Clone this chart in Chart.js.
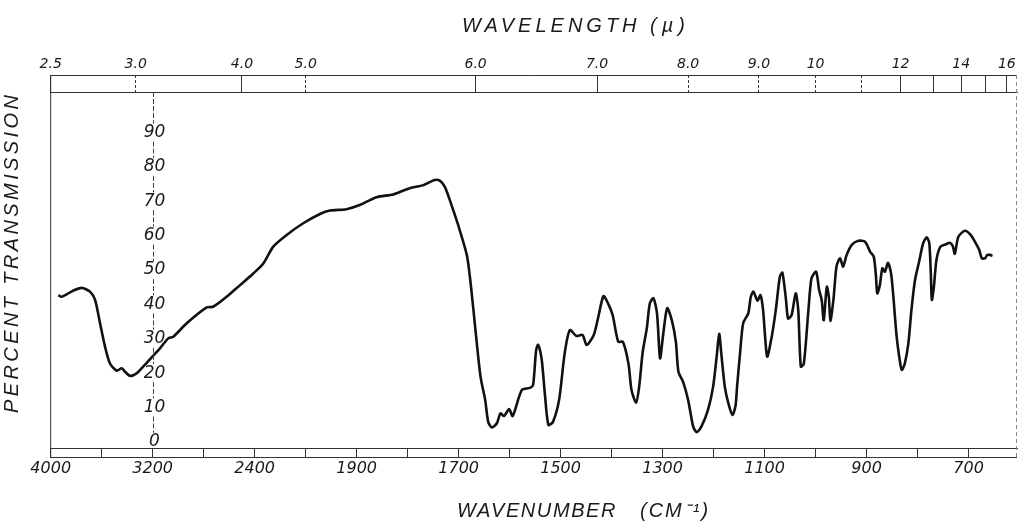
<!DOCTYPE html>
<html><head><meta charset="utf-8">
<script src="https://cdn.jsdelivr.net/npm/chart.js@4.4.1/dist/chart.umd.min.js"></script>
<style>html,body{margin:0;padding:0;background:#fff}#wrap{width:1018px;height:521px;position:relative}</style>
</head><body><div id="wrap"><canvas id="c"></canvas></div>
<script>
// ---- data ----
const wavenumbers = [3940,3914,3823,3757,3692,3652,3613,3574,3535,3482,3443,3417,3378,3326,3274,3208,3143,3078,3038,2933,2776,2725,2620,2515,2411,2332,2254,2149,2019,1972,1952,1920,1894,1861,1828,1796,1769,1747,1737,1727,1714,1701,1684,1678,1671,1665,1657,1648,1642,1635,1625,1618,1611,1601,1594,1576,1560,1554,1548,1544,1537,1531,1524,1515,1503,1492,1482,1469,1457,1449,1435,1426,1416,1407,1398,1387,1378,1367,1361,1352,1346,1339,1331,1325,1318,1311,1305,1299,1291,1282,1274,1269,1260,1250,1240,1233,1224,1211,1201,1194,1189,1185,1178,1171,1163,1157,1154,1148,1142,1132,1127,1122,1114,1108,1103,1095,1086,1078,1070,1065,1058,1054,1047,1039,1034,1029,1023,1014,1008,999,993,988,984,978,974,971,965,959,952,946,939,929,916,903,893,886,882,879,874,869,864,858,852,848,841,835,831,825,818,812,805,797,789,782,777,774,772,768,763,755,744,737,731,727,720,707,696,686,679,674,668,663,658,653];
const transmission = [42.7,42.2,44.0,44.8,43.7,41.3,34.5,27.7,22.8,20.7,21.4,20.4,19.2,19.9,21.9,24.6,27.2,30.1,30.6,34.5,39.1,39.3,42.2,45.6,49.0,51.9,56.8,60.2,63.6,66.3,67.3,67.7,68.9,71.2,72.0,73.8,74.7,76.2,76.0,74.2,68.9,63.1,54.4,48.1,38.4,29.6,18.9,12.2,5.8,4.2,5.4,8.3,7.5,9.5,7.5,15.1,15.7,16.5,26.7,28.2,23.8,14.1,4.9,5.8,12.2,25.8,32.5,30.8,31.1,28.2,31.1,36.4,42.4,40.3,36.9,29.1,29.1,22.8,15.1,11.4,16.0,26.2,33.0,40.3,41.8,37.4,24.3,31.1,38.9,35.4,29.1,20.4,17.5,12.2,4.4,2.8,4.4,9.3,16.0,24.8,31.4,25.8,16.0,11.2,7.8,10.5,16.0,26.0,34.5,37.4,42.2,43.7,41.1,42.7,38.4,24.8,30.6,38.4,48.1,49.2,41.3,35.9,36.9,43.2,38.4,21.9,22.8,38.4,47.6,49.5,44.2,41.3,35.4,45.1,42.2,35.2,41.3,51.0,53.4,51.0,54.4,57.3,58.5,58.2,55.3,53.9,49.0,43.2,45.6,50.5,49.5,52.1,49.0,43.2,30.6,23.8,20.9,22.8,28.7,38.4,47.1,52.4,57.8,59.5,57.8,49.0,41.3,45.1,52.9,56.8,57.5,57.9,57.0,54.7,59.7,61.4,60.2,57.8,55.8,53.4,53.4,54.4,54.4,54.1];

const bottomTickValues = [4000,3600,3200,2800,2400,2000,1900,1800,1700,1600,1500,1400,1300,1200,1100,1000,900,800,700];
const bottomTickLabels = [4000,3200,2400,1900,1700,1500,1300,1100,900,700];
const topMicrons = [2.5,3,4,5,6,7,8,9,10,11,12,13,14,15,16];
const topTickLabels = ['2.5','3.0','4.0','5.0','6.0','7.0','8.0','9.0','10','','12','','14','','16'];
const topDashed = [3,5,8,9,10,11];
const yTickValues = [0,10,20,30,40,50,60,70,80,90];
const yAxisAtWavenumber = 3200;

// ---- grating-change wavenumber scale (4:1 at 2000 cm-1) ----
function toU(v){ return v >= 2000 ? (4000 - v) / 400 : 5 + (2000 - v) / 100; }
function fromU(u){ return u <= 5 ? 4000 - 400 * u : 2000 - 100 * (u - 5); }
class WavenumberScale extends Chart.LinearScale {
  getPixelForValue(value){
    if (value === null || value === undefined || isNaN(value)) return NaN;
    const a = toU(this.max), b = toU(this.min);
    return this.getPixelForDecimal((toU(value) - a) / (b - a));
  }
  getValueForPixel(pixel){
    const a = toU(this.max), b = toU(this.min);
    return fromU(a + this.getDecimalForPixel(pixel) * (b - a));
  }
}
WavenumberScale.id = 'wavenumber';
WavenumberScale.defaults = {};
Chart.register(WavenumberScale);

const ink = '#1a1a1a';

const decor = {
  id: 'decor',
  afterDraw(chart){
    const {ctx, chartArea: ca, scales} = chart;
    const xs = scales.x, ys = scales.y;
    ctx.save();
    ctx.strokeStyle = '#333';
    ctx.lineWidth = 1;
    ctx.beginPath();
    ctx.moveTo(ca.left, 75); ctx.lineTo(ca.left, 458);
    ctx.moveTo(ca.left, 75.5); ctx.lineTo(ca.right, 75.5);
    ctx.moveTo(ca.left, 457.5); ctx.lineTo(ca.right, 457.5);
    ctx.stroke();
    ctx.strokeStyle = '#888';
    ctx.setLineDash([4,3]);
    ctx.beginPath();
    ctx.moveTo(ca.right - 0.5, 75); ctx.lineTo(ca.right - 0.5, 458);
    ctx.stroke();
    ctx.setLineDash([]);

    // y labels along the dashed axis at 3200 cm-1
    const xa = Math.round(xs.getPixelForValue(yAxisAtWavenumber)) + 0.5;
    ctx.font = 'italic 17px "DejaVu Sans"';
    ctx.fillStyle = ink;
    ctx.textAlign = 'center';
    ctx.textBaseline = 'middle';
    const centers = yTickValues.map(v => ys.getPixelForValue(v));
    yTickValues.forEach((v, i) => ctx.fillText(String(v), xa + 1, centers[i]));
    ctx.strokeStyle = '#444';
    ctx.setLineDash([5,2]);
    ctx.beginPath();
    let prevTop = ca.top;
    for (let i = centers.length - 1; i >= 0; i--) {
      const top = centers[i] - 9, bot = centers[i] + 9;
      if (top > prevTop + 1) { ctx.moveTo(xa, prevTop); ctx.lineTo(xa, top); }
      prevTop = bot;
    }
    ctx.stroke();
    ctx.setLineDash([]);

    // titles
    ctx.fillStyle = ink;
    ctx.textAlign = 'left';
    ctx.textBaseline = 'alphabetic';
    ctx.font = 'italic 20px "Liberation Sans"';
    ctx.letterSpacing = '4px';
    ctx.fillText('WAVELENGTH', 462, 31.5);
    ctx.letterSpacing = '5px';
    ctx.fillText('(\u00b5)', 650, 31.5);
    ctx.letterSpacing = '1.6px';
    ctx.fillText('WAVENUMBER', 457, 516.5);
    ctx.letterSpacing = '2px';
    ctx.fillText('(CM\u207b\u00b9)', 640, 516.5);
    ctx.save();
    ctx.translate(17.5, 413);
    ctx.rotate(-Math.PI / 2);
    ctx.letterSpacing = '3.4px';
    ctx.fillText('PERCENT TRANSMISSION', 0, 0);
    ctx.restore();
    ctx.letterSpacing = '0px';
    ctx.restore();
  }
};

new Chart(document.getElementById('c'), {
  type: 'line',
  data: {
    datasets: [{
      data: wavenumbers.map((w, i) => ({x: w, y: transmission[i]})),
      borderColor: '#111',
      borderWidth: 2.6,
      pointRadius: 0,
      tension: 0.25,
      fill: false
    }]
  },
  options: {
    responsive: true,
    maintainAspectRatio: false,
    animation: false,
    layout: {padding: {left: 50.7, right: 1, top: 0, bottom: 0}},
    plugins: {legend: {display: false}, tooltip: {enabled: false}},
    scales: {
      x: {
        type: 'wavenumber', position: 'bottom', min: 605, max: 4000, bounds: 'data',
        afterBuildTicks: s => { s.ticks = bottomTickValues.map(v => ({value: v})); },
        afterFit: s => { s.height = 73; },
        border: {display: true, color: '#333', width: 1},
        grid: {drawOnChartArea: false, drawTicks: true, tickLength: 10, color: '#333', lineWidth: 1},
        ticks: {
          autoSkip: false, maxRotation: 0, minRotation: 0, padding: 1,
          color: ink, font: {family: 'DejaVu Sans', style: 'italic', size: 16},
          callback: v => bottomTickLabels.includes(v) ? String(v) : ''
        }
      },
      xTop: {
        type: 'wavenumber', position: 'top', min: 605, max: 4000, bounds: 'data',
        afterBuildTicks: s => { s.ticks = topMicrons.map(m => ({value: 10000 / m})); },
        afterFit: s => { s.height = 92; },
        border: {display: true, color: '#333', width: 1},
        grid: {
          drawOnChartArea: false, drawTicks: true, tickLength: 17, color: '#333', lineWidth: 1,
          tickBorderDash: c => (c.index !== undefined && topDashed.includes(topMicrons[c.index])) ? [3, 2] : []
        },
        ticks: {
          autoSkip: false, maxRotation: 0, minRotation: 0, padding: 2,
          color: ink, font: {family: 'DejaVu Sans', style: 'italic', size: 14},
          callback: (v, i) => topTickLabels[i]
        }
      },
      y: {type: 'linear', display: false, min: -1.8, max: 101.8}
    }
  },
  plugins: [decor]
});
</script>
</body></html>
